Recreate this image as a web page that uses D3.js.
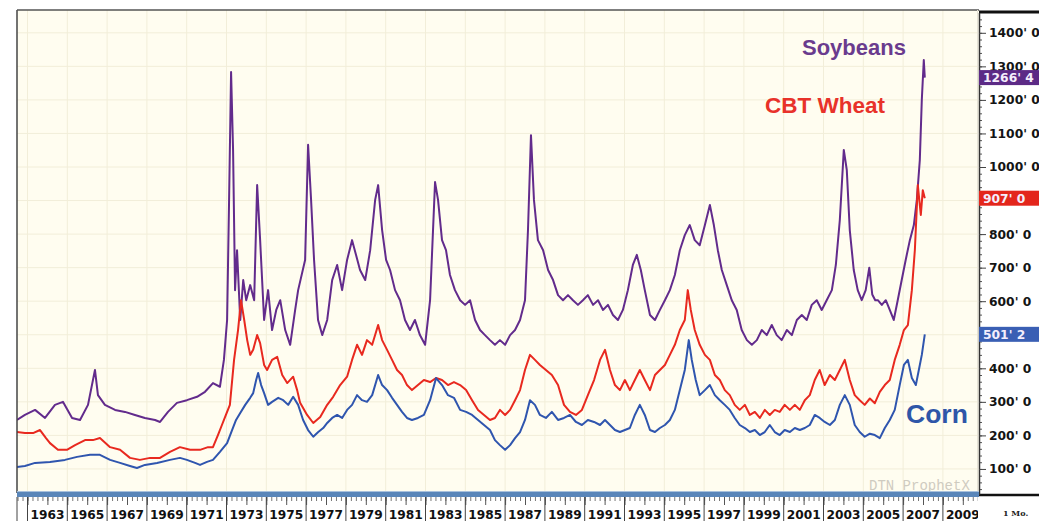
<!DOCTYPE html>
<html><head><meta charset="utf-8">
<script src="https://cdn.jsdelivr.net/npm/d3@7"></script>
<style>
body{margin:0;background:#fff;}
svg{display:block;}
</style>
</head><body>
<svg id="chart" width="1039" height="521"></svg>
<script>
// ---- DATA (decimal year, cents per bushel) ----
const soybeans = [
[1962.47,246],[1962.87,261],[1963.38,276],[1963.88,252],[1964.38,291],[1964.78,300],[1965.24,252],[1965.64,246],
[1966.04,291],[1966.39,395],[1966.54,320],[1966.89,291],[1967.40,276],[1967.90,270],[1968.40,261],[1968.90,252],
[1969.41,246],[1969.66,240],[1970.06,270],[1970.51,297],[1971.01,305],[1971.52,315],[1971.92,330],[1972.32,356],
[1972.67,345],[1972.87,425],[1973.03,544],[1973.13,902],[1973.23,1283],[1973.33,1051],[1973.43,633],[1973.53,752],
[1973.69,544],[1973.84,663],[1973.99,603],[1974.19,648],[1974.39,603],[1974.54,946],[1974.69,782],[1974.89,544],
[1975.09,633],[1975.29,514],[1975.50,574],[1975.70,603],[1975.95,514],[1976.20,470],[1976.45,574],[1976.60,633],
[1976.95,723],[1977.10,1066],[1977.25,902],[1977.40,723],[1977.60,544],[1977.81,499],[1978.06,544],[1978.31,663],
[1978.56,708],[1978.81,633],[1979.06,723],[1979.31,782],[1979.51,738],[1979.71,693],[1979.97,663],[1980.22,752],
[1980.47,902],[1980.62,946],[1980.82,812],[1981.02,723],[1981.22,693],[1981.47,633],[1981.72,603],[1981.97,544],
[1982.22,514],[1982.47,544],[1982.72,499],[1982.98,470],[1983.23,603],[1983.48,955],[1983.63,902],[1983.83,782],
[1984.03,752],[1984.23,678],[1984.48,633],[1984.74,603],[1984.99,589],[1985.24,603],[1985.49,544],[1985.74,514],
[1985.99,499],[1986.24,484],[1986.49,470],[1986.74,484],[1987.00,470],[1987.25,499],[1987.50,514],[1987.75,544],
[1988.00,603],[1988.15,812],[1988.30,1095],[1988.45,902],[1988.65,782],[1988.91,752],[1989.16,693],[1989.41,663],
[1989.66,618],[1989.91,603],[1990.16,618],[1990.41,603],[1990.66,589],[1990.91,603],[1991.16,618],[1991.42,589],
[1991.67,603],[1991.92,574],[1992.17,589],[1992.42,559],[1992.67,544],[1992.92,574],[1993.17,633],[1993.42,708],
[1993.62,738],[1993.82,693],[1994.02,633],[1994.28,559],[1994.53,544],[1994.78,574],[1995.03,603],[1995.28,633],
[1995.53,678],[1995.78,752],[1996.03,797],[1996.28,827],[1996.53,782],[1996.78,767],[1997.04,827],[1997.29,887],
[1997.49,827],[1997.69,752],[1997.89,693],[1998.14,648],[1998.39,603],[1998.64,574],[1998.89,514],[1999.15,484],
[1999.40,470],[1999.65,484],[1999.90,514],[2000.15,499],[2000.40,529],[2000.65,499],[2000.90,484],[2001.16,514],
[2001.41,499],[2001.66,544],[2001.91,559],[2002.16,544],[2002.41,589],[2002.66,603],[2002.91,574],[2003.16,603],
[2003.42,633],[2003.62,708],[2003.82,842],[2004.02,1051],[2004.17,991],[2004.32,812],[2004.52,693],[2004.72,633],
[2004.92,603],[2005.12,633],[2005.30,700],[2005.45,620],[2005.60,603],[2005.73,603],[2005.93,589],[2006.13,603],
[2006.33,574],[2006.53,544],[2006.73,603],[2006.93,663],[2007.13,723],[2007.34,782],[2007.54,827],[2007.69,902],
[2007.84,1021],[2007.94,1200],[2008.04,1319],[2008.09,1266.5]
];
const wheat = [
[1962.47,210],[1962.87,207],[1963.28,207],[1963.63,216],[1963.93,192],[1964.13,177],[1964.53,157],[1964.98,157],
[1965.39,171],[1965.89,186],[1966.29,186],[1966.64,192],[1967.15,165],[1967.65,157],[1968.15,133],[1968.65,127],
[1969.16,133],[1969.66,133],[1970.16,151],[1970.66,165],[1971.17,157],[1971.67,157],[1972.07,165],[1972.32,165],
[1972.57,201],[1972.77,231],[1972.97,261],[1973.17,291],[1973.38,425],[1973.58,514],[1973.73,603],[1973.89,544],
[1974.04,484],[1974.19,440],[1974.34,455],[1974.54,499],[1974.69,475],[1974.89,410],[1975.04,395],[1975.29,425],
[1975.55,434],[1975.80,380],[1976.05,356],[1976.35,375],[1976.55,335],[1976.70,297],[1977.05,261],[1977.36,237],
[1977.71,255],[1978.06,291],[1978.36,315],[1978.71,350],[1979.06,375],[1979.31,425],[1979.56,470],[1979.81,440],
[1980.06,484],[1980.32,470],[1980.62,529],[1980.82,484],[1981.07,455],[1981.32,425],[1981.57,395],[1981.82,380],
[1982.07,350],[1982.32,335],[1982.62,350],[1982.92,365],[1983.23,359],[1983.53,371],[1983.83,365],[1984.13,350],
[1984.43,359],[1984.74,350],[1985.04,335],[1985.34,305],[1985.64,276],[1985.94,261],[1986.24,246],[1986.49,252],
[1986.74,276],[1987.00,261],[1987.25,276],[1987.50,305],[1987.75,335],[1988.00,395],[1988.25,440],[1988.50,425],
[1988.75,410],[1989.05,395],[1989.35,380],[1989.66,350],[1989.96,291],[1990.26,270],[1990.56,261],[1990.86,276],
[1991.16,320],[1991.47,365],[1991.77,425],[1992.02,455],[1992.27,395],[1992.52,350],[1992.77,335],[1993.02,365],
[1993.27,335],[1993.52,365],[1993.77,395],[1994.02,365],[1994.28,335],[1994.53,380],[1994.78,395],[1995.03,410],
[1995.28,440],[1995.53,470],[1995.78,514],[1996.03,544],[1996.18,633],[1996.33,574],[1996.53,514],[1996.78,470],
[1997.04,440],[1997.29,425],[1997.54,380],[1997.79,365],[1998.04,335],[1998.29,320],[1998.54,291],[1998.79,276],
[1999.05,291],[1999.30,261],[1999.55,270],[1999.80,252],[2000.05,276],[2000.30,261],[2000.55,276],[2000.80,270],
[2001.05,291],[2001.31,276],[2001.56,291],[2001.81,276],[2002.06,305],[2002.31,320],[2002.56,365],[2002.81,395],
[2003.06,350],[2003.32,380],[2003.57,365],[2003.82,395],[2004.07,425],[2004.32,365],[2004.57,320],[2004.82,305],
[2005.07,291],[2005.33,310],[2005.58,296],[2005.83,330],[2006.08,350],[2006.33,365],[2006.58,425],[2006.83,470],
[2007.04,514],[2007.24,529],[2007.44,633],[2007.59,752],[2007.74,946],[2007.89,857],[2007.99,931],[2008.09,907]
];
const corn = [
[1962.47,106],[1962.87,109],[1963.38,118],[1964.13,121],[1964.88,127],[1965.49,136],[1966.14,142],[1966.64,142],
[1967.15,127],[1967.65,118],[1968.15,109],[1968.50,103],[1968.90,112],[1969.51,118],[1970.16,127],[1970.66,133],
[1971.01,127],[1971.42,118],[1971.67,112],[1972.02,121],[1972.32,127],[1972.67,151],[1973.03,177],[1973.28,216],
[1973.48,246],[1973.69,267],[1973.94,291],[1974.19,312],[1974.34,326],[1974.49,365],[1974.59,386],[1974.74,350],
[1974.89,326],[1975.09,291],[1975.29,300],[1975.60,312],[1975.85,305],[1976.10,291],[1976.35,315],[1976.60,291],
[1976.85,246],[1977.10,216],[1977.36,196],[1977.61,210],[1977.86,222],[1978.06,237],[1978.31,252],[1978.56,261],
[1978.81,252],[1979.06,276],[1979.31,291],[1979.56,320],[1979.81,305],[1980.06,300],[1980.32,320],[1980.62,380],
[1980.82,350],[1981.07,335],[1981.32,312],[1981.57,291],[1981.82,270],[1982.07,252],[1982.32,246],[1982.62,252],
[1982.92,261],[1983.23,305],[1983.53,371],[1983.83,350],[1984.13,320],[1984.43,312],[1984.74,276],[1985.04,270],
[1985.34,261],[1985.64,246],[1985.94,231],[1986.24,216],[1986.49,186],[1986.74,171],[1987.00,157],[1987.25,171],
[1987.50,192],[1987.75,210],[1988.00,246],[1988.25,305],[1988.50,291],[1988.75,261],[1989.05,252],[1989.35,270],
[1989.66,246],[1989.96,252],[1990.26,261],[1990.56,240],[1990.86,231],[1991.16,246],[1991.47,240],[1991.77,231],
[1992.02,246],[1992.27,231],[1992.52,216],[1992.77,210],[1993.02,216],[1993.27,222],[1993.52,261],[1993.77,291],
[1994.02,261],[1994.28,216],[1994.53,210],[1994.78,222],[1995.03,231],[1995.28,246],[1995.53,276],[1995.78,335],
[1996.03,395],[1996.23,484],[1996.38,425],[1996.58,365],[1996.78,320],[1997.04,335],[1997.29,350],[1997.54,320],
[1997.79,305],[1998.04,291],[1998.29,276],[1998.54,252],[1998.79,231],[1999.05,222],[1999.30,210],[1999.55,216],
[1999.80,201],[2000.05,210],[2000.30,231],[2000.55,210],[2000.80,201],[2001.05,216],[2001.31,210],[2001.56,222],
[2001.81,216],[2002.06,222],[2002.31,231],[2002.56,261],[2002.81,252],[2003.06,240],[2003.32,231],[2003.57,246],
[2003.82,291],[2004.07,320],[2004.32,291],[2004.57,231],[2004.82,210],[2005.07,196],[2005.33,205],[2005.58,201],
[2005.83,192],[2006.08,222],[2006.33,246],[2006.58,276],[2006.83,350],[2007.04,410],[2007.24,425],[2007.44,371],
[2007.64,350],[2007.79,395],[2007.94,440],[2008.09,501.25]
];
const seriesNames = ["Soybeans", "CBT Wheat", "Corn"];
const yTickValues = [100,200,300,400,500,600,700,800,900,1000,1100,1200,1300,1400];
const xLabelYears = [1963,1965,1967,1969,1971,1973,1975,1977,1979,1981,1983,1985,1987,1989,1991,1993,1995,1997,1999,2001,2003,2005,2007,2009];

// ---- LAYOUT ----
const W = 1039, H = 521;
const plot = {l:17, t:10, r:979, b:493};
const svg = d3.select("#chart");
const x = d3.scaleLinear().domain([1963, 2009]).range([27.5, 942.9]);
const y = d3.scaleLinear().domain([0, 1400]).range([502.5, 32.8]);
const colors = {soy:"#622b8c", wheat:"#e8291f", corn:"#2f55ae"};
const axisFont = "'DejaVu Sans', Verdana, sans-serif";
const titleFont = "Arial, 'Liberation Sans', sans-serif";

// eighths formatting: 1266.5 -> 1266' 4
const fmt8 = v => { const w = Math.floor(v); return `${w}' ${Math.round((v - w) * 8)}`; };

const tags = [
  {v: soybeans[soybeans.length - 1][1], c: "#5c2a86"},
  {v: wheat[wheat.length - 1][1], c: "#e3261c"},
  {v: corn[corn.length - 1][1], c: "#3a5fb4"}
];

// plot background
svg.append("rect").attr("x", plot.l).attr("y", plot.t).attr("width", plot.r - plot.l).attr("height", plot.b - plot.t)
  .attr("fill", "#fffdf0");

const defs = svg.append("defs");
defs.append("clipPath").attr("id", "clip").append("rect")
  .attr("x", plot.l).attr("y", plot.t).attr("width", plot.r - plot.l - 1).attr("height", plot.b - plot.t - 1);
defs.append("clipPath").attr("id", "clipx").append("rect")
  .attr("x", plot.l).attr("y", plot.b).attr("width", plot.r - plot.l - 1).attr("height", H - plot.b);

// grid
const grid = svg.append("g").attr("clip-path", "url(#clip)");
grid.selectAll("line.h").data(yTickValues).join("line")
  .attr("x1", plot.l).attr("x2", plot.r).attr("y1", d => y(d)).attr("y2", d => y(d))
  .attr("stroke", "#f2eed9").attr("stroke-width", 1);
grid.selectAll("line.v").data(xLabelYears).join("line")
  .attr("x1", d => x(d)).attr("x2", d => x(d)).attr("y1", plot.t).attr("y2", plot.b)
  .attr("stroke", "#f2eed9").attr("stroke-width", 1);

// watermark
svg.append("text").attr("x", 869).attr("y", 490).text("DTN ProphetX")
  .attr("font-family", "'Liberation Mono', 'DejaVu Sans Mono', monospace").attr("font-size", 14)
  .attr("fill", "#cfcbc0");

// lines
const line = d3.line().x(d => x(d[0])).y(d => y(d[1]));
const lg = svg.append("g").attr("clip-path", "url(#clip)").attr("fill", "none")
  .attr("stroke-linejoin", "round").attr("stroke-width", 2);
lg.append("path").datum(soybeans).attr("d", line).attr("stroke", colors.soy);
lg.append("path").datum(wheat).attr("d", line).attr("stroke", colors.wheat);
lg.append("path").datum(corn).attr("d", line).attr("stroke", colors.corn);

// series labels
svg.append("text").attr("x", 802).attr("y", 55).text(seriesNames[0])
  .attr("font-family", titleFont).attr("font-weight", "bold").attr("font-size", 22).attr("fill", "#6a3b8e");
svg.append("text").attr("x", 765).attr("y", 113).text(seriesNames[1])
  .attr("font-family", titleFont).attr("font-weight", "bold").attr("font-size", 22.5).attr("fill", "#e8322a");
svg.append("text").attr("x", 906).attr("y", 423).text(seriesNames[2])
  .attr("font-family", titleFont).attr("font-weight", "bold").attr("font-size", 26.5).attr("fill", "#2e56a8");

// frame
svg.append("line").attr("x1", plot.l).attr("x2", plot.l).attr("y1", plot.t).attr("y2", plot.b)
  .attr("stroke", "#444").attr("stroke-width", 1.5);
svg.append("line").attr("x1", plot.l).attr("x2", plot.r).attr("y1", plot.t).attr("y2", plot.t)
  .attr("stroke", "#555").attr("stroke-width", 1.5);
svg.append("line").attr("x1", plot.r - 1.5).attr("x2", plot.r - 1.5).attr("y1", plot.t).attr("y2", plot.b)
  .attr("stroke", "#e6e3d6").attr("stroke-width", 1);

// right axis panel
svg.append("rect").attr("x", plot.r).attr("y", 12).attr("width", W - plot.r).attr("height", 483).attr("fill", "#fff");
svg.append("line").attr("x1", plot.r).attr("x2", W).attr("y1", 12).attr("y2", 12).attr("stroke", "#111").attr("stroke-width", 3);
svg.append("line").attr("x1", plot.r).attr("x2", W).attr("y1", 495).attr("y2", 495).attr("stroke", "#111").attr("stroke-width", 2.5);

const minorTicks = d3.range(40, 1460, 20);
const yMinor = svg.append("g").attr("transform", `translate(${plot.r},0)`)
  .call(d3.axisRight(y).tickValues(minorTicks).tickSize(3).tickFormat(""));
yMinor.select(".domain").remove();
yMinor.selectAll("line").attr("stroke", "#555");

// labels fully covered by a last-value tag are not shown (as in the reference)
const hidden = v => tags.some(t => Math.abs(y(v) - y(t.v)) < 6);
const yAxis = svg.append("g").attr("transform", `translate(${plot.r},0)`)
  .call(d3.axisRight(y).tickValues(yTickValues).tickSize(7).tickPadding(3)
    .tickFormat(d => hidden(d) ? "" : `${d}' 0`));
yAxis.select(".domain").attr("d", `M0.5,13V495`).attr("stroke", "#333").attr("stroke-width", 1.5);
yAxis.selectAll("line").attr("stroke", "#444");
yAxis.selectAll("text").attr("font-family", axisFont).attr("font-weight", "bold").attr("font-size", 12.3)
  .attr("fill", "#141414");

// last-value tags
const tg = svg.append("g").selectAll("g").data(tags).join("g")
  .attr("transform", d => `translate(${plot.r},${y(d.v)})`);
tg.append("rect").attr("x", 0).attr("y", -7.5).attr("width", W - plot.r).attr("height", 15).attr("fill", d => d.c);
tg.append("text").attr("x", 4).attr("y", 4.5).text(d => fmt8(d.v))
  .attr("font-family", axisFont).attr("font-weight", "bold").attr("font-size", 12.3).attr("fill", "#f4eefc");

// bottom band
svg.append("rect").attr("x", plot.l).attr("y", 491).attr("width", plot.r - plot.l).attr("height", 6).attr("fill", "#5a86b9");
svg.append("line").attr("x1", plot.l).attr("x2", plot.r).attr("y1", 491.5).attr("y2", 491.5).attr("stroke", "#a9c1dc").attr("stroke-width", 1);

// x axis
const xg = svg.append("g").attr("clip-path", "url(#clipx)");
const quarterTicks = d3.range(1962.5, 2011, 0.25);
const yearTicks = d3.range(1962, 2011, 1);
xg.append("g").attr("transform", "translate(0,497)")
  .call(d3.axisBottom(x).tickValues(quarterTicks).tickSize(4).tickFormat(""))
  .call(g => g.select(".domain").remove())
  .call(g => g.selectAll("line").attr("stroke", "#777"));
xg.append("g").attr("transform", "translate(0,497)")
  .call(d3.axisBottom(x).tickValues(yearTicks).tickSize(8).tickFormat(""))
  .call(g => g.select(".domain").remove())
  .call(g => g.selectAll("line").attr("stroke", "#555"));
xg.selectAll("line.sep").data(xLabelYears).join("line").attr("class", "sep")
  .attr("x1", d => x(d)).attr("x2", d => x(d)).attr("y1", 497).attr("y2", 521)
  .attr("stroke", "#444").attr("stroke-width", 1);
xg.selectAll("text.yl").data(xLabelYears).join("text").attr("class", "yl")
  .attr("x", d => x(d) + 3).attr("y", 519).text(d => d)
  .attr("font-family", axisFont).attr("font-weight", "bold").attr("font-size", 12.2).attr("fill", "#111");
svg.append("line").attr("x1", plot.l).attr("x2", plot.l).attr("y1", 497).attr("y2", 521).attr("stroke", "#444");

svg.append("text").attr("x", 1003).attr("y", 516).text("1 Mo.")
  .attr("font-family", "'DejaVu Serif', serif").attr("font-weight", "bold").attr("font-size", 8).attr("fill", "#222");
</script>
</body></html>
